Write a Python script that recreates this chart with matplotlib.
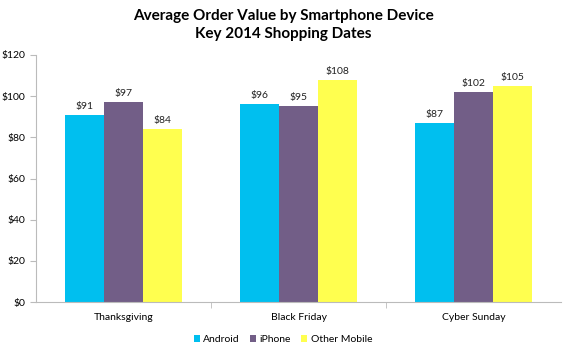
import numpy as np
import matplotlib.pyplot as plt
from matplotlib.ticker import FuncFormatter, FixedLocator

dates = ["Thanksgiving", "Black Friday", "Cyber Sunday"]
android = [91, 96, 87]
iphone = [97, 95, 102]
other = [84, 108, 105]
series = [("Android", android, "#00BFEF"),
          ("iPhone", iphone, "#725E87"),
          ("Other Mobile", other, "#FFFF4F")]

plt.rcParams['font.family'] = ['Lato', 'DejaVu Sans']

fig = plt.figure(figsize=(5.67, 3.5), dpi=100)
ax = fig.add_axes([0.0635, 0.137, 0.926, 0.706])

x = np.arange(len(dates))
w = 0.224
for i, (name, vals, col) in enumerate(series):
    pos = x + (i - 1) * w
    ax.bar(pos, vals, w, color=col, label=name)
    for p, v in zip(pos, vals):
        ax.text(p, v + 2, f"${v}", ha="center", va="bottom", fontsize=7.5, color="#222222")

ax.set_xlim(-0.5, 2.5)
ax.set_ylim(0, 120)
ax.set_yticks(range(0, 121, 20))
ax.yaxis.set_major_formatter(FuncFormatter(lambda v, p: f"${v:.0f}"))
ax.set_xticks(x)
ax.set_xticklabels(dates)
ax.xaxis.set_minor_locator(FixedLocator([0.5, 1.5]))
ax.tick_params(axis="x", which="major", length=0, labelsize=7.5, pad=8)
ax.tick_params(axis="x", which="minor", length=4, color="#BBBBBB")
ax.tick_params(axis="y", length=4, color="#BBBBBB", labelsize=7.5)
for s in ["top", "right"]:
    ax.spines[s].set_visible(False)
for s in ["left", "bottom"]:
    ax.spines[s].set_color("#BBBBBB")

fig.suptitle("Average Order Value by Smartphone Device\nKey 2014 Shopping Dates",
             y=0.975, fontsize=11, fontweight="bold", linespacing=1.35)

ax.legend(loc="upper center", bbox_to_anchor=(0.47, -0.095), ncol=3, frameon=False,
          fontsize=7.5, handlelength=0.6, handleheight=0.6, handletextpad=0.3,
          columnspacing=1.0)

fig.savefig("out.png", dpi=100)
